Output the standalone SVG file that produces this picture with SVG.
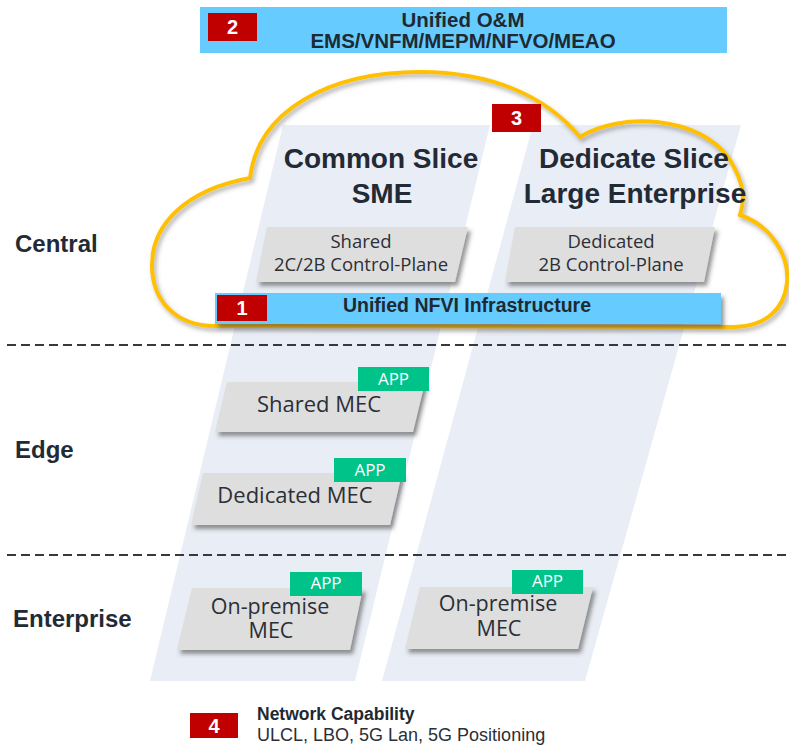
<svg xmlns="http://www.w3.org/2000/svg" width="789" height="747" viewBox="0 0 789 747">
<defs>
<filter id="sh" x="-10%" y="-20%" width="130%" height="160%"><feDropShadow dx="3" dy="4" stdDeviation="2" flood-color="#404040" flood-opacity="0.55"/></filter>
<filter id="csh" x="-10%" y="-10%" width="120%" height="130%"><feDropShadow dx="2" dy="3" stdDeviation="2" flood-color="#606060" flood-opacity="0.5"/></filter>
</defs>
<style>
.band{fill:#E9EDF5}
.box{fill:#DEDEDE;filter:url(#sh)}
.blue{fill:#66CCFF}
.badge{fill:#C00000}
.bnum{font-family:"Liberation Sans",Arial,sans-serif;font-weight:bold;font-size:20px;fill:#fff;text-anchor:middle}
.app{fill:#00C389}
.apptxt{font-family:"Open Sans",sans-serif;font-size:17px;fill:#fff;text-anchor:middle}
.hb{font-family:"Liberation Sans",Arial,sans-serif;font-weight:bold;fill:#1F2933}
.title{font-family:"Liberation Sans",Arial,sans-serif;font-weight:bold;font-size:28px;fill:#222A35;text-anchor:middle}
.lbl{font-family:"Open Sans",sans-serif;fill:#2B2F36;text-anchor:middle}
.tier{font-family:"Liberation Sans",Arial,sans-serif;font-weight:bold;font-size:24px;fill:#222A35}
.sep{stroke:#333A42;stroke-width:2;stroke-dasharray:9 5;fill:none}
</style>
<rect width="789" height="747" fill="#fff"/>
<g id="bands">
<polygon class="band" points="283,125 490,125 355,681 150,681"/>
<polygon class="band" points="533,125 741,125 585,681 382,681"/>
</g>
<g id="separators">
<line class="sep" x1="7" y1="345" x2="789" y2="345"/>
<line class="sep" x1="7" y1="555" x2="789" y2="555"/>
</g>
<g id="cloud">
<path d="M250,178 C258,110 330,72 420,72 C490,72 545,95 580,137 C620,112 700,115 730,160 C745,185 745,200 740,215 C770,225 790,255 787,283 C784,310 765,326 735,327 L215,326 C175,326 152,300 152,265 C152,225 185,190 250,178 Z" fill="none" stroke="#FFC000" stroke-width="4" filter="url(#csh)"/>
</g>
<g id="tiers">
<text class="tier" x="15" y="252">Central</text>
<text class="tier" x="15" y="458">Edge</text>
<text class="tier" x="13" y="627">Enterprise</text>
</g>
<g id="om">
<rect class="blue" x="200" y="7" width="527" height="46"/>
<rect class="badge" x="208" y="13" width="49" height="28"/>
<text class="bnum" x="232.5" y="34">2</text>
<text class="hb" x="463" y="27" font-size="20.5" text-anchor="middle">Unified O&amp;M</text>
<text class="hb" x="463" y="48" font-size="20.5" text-anchor="middle">EMS/VNFM/MEPM/NFVO/MEAO</text>
</g>
<g id="common-slice">
<text class="title" x="381" y="168">Common Slice</text>
<text class="title" x="382" y="203">SME</text>
</g>
<g id="dedicate-slice">
<text class="title" x="634" y="168">Dedicate Slice</text>
<text class="title" x="635" y="203">Large Enterprise</text>
</g>
<g id="badge3">
<rect class="badge" x="492" y="104" width="49" height="28"/>
<text class="bnum" x="516.5" y="125">3</text>
</g>
<g id="shared-cp">
<polygon class="box" points="267,227 468,227 455,282 256,282"/>
<text class="lbl" x="361" y="248" font-size="18.5">Shared</text>
<text class="lbl" x="361" y="271" font-size="18.5">2C/2B Control-Plane</text>
</g>
<g id="dedicated-cp">
<polygon class="box" points="515,227 715,227 704,282 505,282"/>
<text class="lbl" x="611" y="248" font-size="18.5">Dedicated</text>
<text class="lbl" x="611" y="271" font-size="18.5">2B Control-Plane</text>
</g>
<g id="nfvi">
<rect class="blue" x="215" y="293" width="506" height="31" filter="url(#sh)"/>
<rect class="badge" x="217" y="295" width="50" height="26"/>
<text class="bnum" x="242" y="315">1</text>
<text class="hb" x="467" y="312" font-size="19.5" text-anchor="middle">Unified NFVI Infrastructure</text>
</g>
<g id="shared-mec">
<polygon class="box" points="227,382 425,382 413,432 215,432"/>
<text class="lbl" x="319" y="412" font-size="22">Shared MEC</text>
<rect class="app" x="358" y="367" width="71" height="24"/>
<text class="apptxt" x="393.5" y="385">APP</text>
</g>
<g id="dedicated-mec">
<polygon class="box" points="203,473 402,473 390,525 191,525"/>
<text class="lbl" x="295" y="503" font-size="22">Dedicated MEC</text>
<rect class="app" x="334" y="458" width="72" height="24"/>
<text class="apptxt" x="370" y="476">APP</text>
</g>
<g id="onprem-mec-1">
<polygon class="box" points="192,588 363,588 350,650 177,650"/>
<rect class="app" x="290" y="572" width="72" height="24"/>
<text class="apptxt" x="326" y="589">APP</text>
<text class="lbl" x="270" y="614" font-size="21.5">On-premise</text>
<text class="lbl" x="271" y="638" font-size="21.5">MEC</text>
</g>
<g id="onprem-mec-2">
<polygon class="box" points="420,587 593,587 578,649 405,649"/>
<rect class="app" x="512" y="570" width="71" height="24"/>
<text class="apptxt" x="547.5" y="587">APP</text>
<text class="lbl" x="498" y="611" font-size="21.5">On-premise</text>
<text class="lbl" x="499" y="636" font-size="21.5">MEC</text>
</g>
<g id="legend">
<rect class="badge" x="190" y="713" width="48" height="25"/>
<text class="bnum" x="214" y="733" font-size="19">4</text>
<text class="hb" x="257" y="720" font-size="17.5">Network Capability</text>
<text x="257" y="741" font-family="Liberation Sans, Arial, sans-serif" font-size="18" fill="#2B2F36">ULCL, LBO, 5G Lan, 5G Positioning</text>
</g>
</svg>
